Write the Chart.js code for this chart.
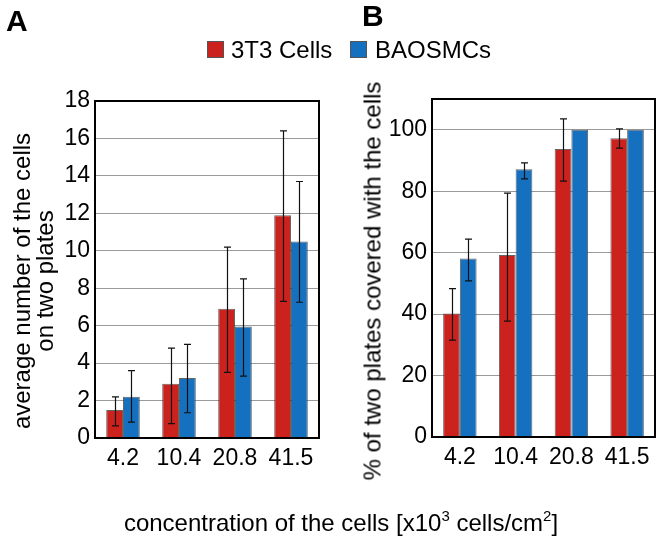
<!DOCTYPE html>
<html>
<head>
<meta charset="utf-8">
<script src="https://cdn.jsdelivr.net/npm/chart.js@4.4.1/dist/chart.umd.min.js"></script>
<style>
  html, body { margin: 0; padding: 0; background: #fff; }
  #page { position: relative; width: 664px; height: 545px; overflow: hidden; font-family: 'Liberation Sans', Arial, sans-serif; color: #000; }
  canvas { position: absolute; top: 0; }
  #chartA { left: 0; }
  #chartB { left: 332px; }
  .panel-tag { position: absolute; font-weight: bold; font-size: 30px; line-height: 30px; }
  .legend-text { position: absolute; font-size: 24px; line-height: 24px; white-space: nowrap; }
  .swatch { position: absolute; width: 17px; height: 17px; border: 1px solid #555; box-sizing: border-box; }
  .y-title { position: absolute; font-size: 24px; line-height: 23px; white-space: nowrap; text-align: center; transform: translate(-50%, -50%) rotate(-90deg); }
  #xTitle { position: absolute; left: 341px; top: 511px; font-size: 24px; line-height: 24px; white-space: nowrap; transform: translateX(-50%); }
  #xTitle sup { font-size: 15px; position: relative; top: -10px; vertical-align: baseline; }
</style>
</head>
<body>
<div id="page">
  <canvas id="chartA" width="332" height="545"></canvas>
  <canvas id="chartB" width="332" height="545"></canvas>

  <div class="panel-tag" style="left:6px; top:6px;">A</div>
  <div class="panel-tag" style="left:362px; top:1px;">B</div>

  <div class="swatch" style="left:207px; top:41px; background:#cc221e;"></div>
  <div class="legend-text" style="left:231px; top:38px;">3T3 Cells</div>
  <div class="swatch" style="left:350px; top:41px; background:#1570bf;"></div>
  <div class="legend-text" style="left:375px; top:38px;">BAOSMCs</div>

  <div class="y-title" style="left:33px; top:281px;">average number of the cells<br>on two plates</div>
  <div class="y-title" style="left:372px; top:281px;">% of two plates covered with the cells</div>

  <div id="xTitle">concentration of the cells [x10<sup>3</sup> cells/cm<sup>2</sup>]</div>
</div>

<script>
// values
const concentrations = ['4.2', '10.4', '20.8', '41.5'];

const count3T3 = [1.5, 2.9, 6.9, 11.9];
const count3T3Low = [0.65, 0.77, 3.5, 7.3];
const count3T3High = [2.2, 4.8, 10.2, 16.4];
const countBAOSMC = [2.2, 3.2, 5.95, 10.5];
const countBAOSMCLow = [0.85, 1.35, 3.3, 7.25];
const countBAOSMCHigh = [3.6, 5.0, 8.5, 13.7];

const cover3T3 = [40.2, 59.2, 93.7, 97.2];
const cover3T3Low = [31.5, 37.7, 83.3, 94.0];
const cover3T3High = [48.3, 79.4, 103.5, 100.3];
const coverBAOSMC = [58.1, 87.1, 100, 100];
const coverBAOSMCLow = [50.8, 84.0, null, null];
const coverBAOSMCHigh = [64.4, 89.2, null, null];

const seriesNames = ['3T3 Cells', 'BAOSMCs'];

const COLORS = {
  red: '#cc221e',
  blue: '#1570bf',
  barEdge: 'rgba(50, 50, 50, 0.75)',
  grid: '#9a9a9a',
};

Chart.defaults.font.family = "'Liberation Sans', Arial, sans-serif";
Chart.defaults.color = '#000';

const errorBarPlugin = {
  id: 'errorBars',
  afterDatasetsDraw(chart) {
    const { ctx } = chart;
    const yScale = chart.scales.y;
    ctx.save();
    ctx.strokeStyle = '#111';
    ctx.lineWidth = 1.2;
    chart.data.datasets.forEach((ds, i) => {
      chart.getDatasetMeta(i).data.forEach((bar, j) => {
        const lo = ds.errLow[j];
        const hi = ds.errHigh[j];
        if (lo == null || hi == null) return;
        const x = Math.round(bar.x) + 0.5;
        const yLo = yScale.getPixelForValue(lo);
        const yHi = yScale.getPixelForValue(hi);
        ctx.beginPath();
        ctx.moveTo(x, yLo);
        ctx.lineTo(x, yHi);
        ctx.moveTo(x - 3.5, yLo);
        ctx.lineTo(x + 3.5, yLo);
        ctx.moveTo(x - 3.5, yHi);
        ctx.lineTo(x + 3.5, yHi);
        ctx.stroke();
      });
    });
    ctx.restore();
  },
};

const framePlugin = {
  id: 'frame',
  afterDraw(chart) {
    const { ctx, chartArea: a } = chart;
    ctx.save();
    ctx.strokeStyle = '#000';
    ctx.lineWidth = 2;
    ctx.strokeRect(a.left, a.top, a.right - a.left, a.bottom - a.top);
    ctx.restore();
  },
};

function makePanel(canvasId, panel) {
  const ctx = document.getElementById(canvasId).getContext('2d');
  return new Chart(ctx, {
    type: 'bar',
    data: {
      labels: concentrations,
      datasets: [
        {
          label: seriesNames[0],
          data: panel.red,
          errLow: panel.redLow,
          errHigh: panel.redHigh,
          backgroundColor: COLORS.red,
          borderColor: COLORS.barEdge,
          borderWidth: 1,
        },
        {
          label: seriesNames[1],
          data: panel.blue,
          errLow: panel.blueLow,
          errHigh: panel.blueHigh,
          backgroundColor: COLORS.blue,
          borderColor: COLORS.barEdge,
          borderWidth: 1,
        },
      ],
    },
    options: {
      responsive: false,
      animation: false,
      categoryPercentage: 0.6,
      barPercentage: 1.0,
      layout: { padding: panel.padding },
      plugins: {
        legend: { display: false },
        tooltip: { enabled: false },
      },
      scales: {
        x: {
          grid: { display: false, drawTicks: false },
          border: { display: false },
          ticks: { font: { size: 23 }, padding: 7, autoSkip: false, maxRotation: 0 },
          afterFit: (scale) => { scale.height = 40; },
        },
        y: {
          min: 0,
          max: panel.max,
          grid: { color: COLORS.grid, lineWidth: 1, drawTicks: false },
          border: { display: false },
          ticks: { stepSize: panel.step, includeBounds: false, font: { size: 23 }, padding: 5 },
          afterFit: (scale) => { scale.width = panel.axisWidth; },
        },
      },
    },
    plugins: [errorBarPlugin, framePlugin],
  });
}

makePanel('chartA', {
  red: count3T3, redLow: count3T3Low, redHigh: count3T3High,
  blue: countBAOSMC, blueLow: countBAOSMCLow, blueHigh: countBAOSMCHigh,
  max: 18, step: 2, axisWidth: 95,
  padding: { left: 0, right: 13, top: 101, bottom: 67 },
});

makePanel('chartB', {
  red: cover3T3, redLow: cover3T3Low, redHigh: cover3T3High,
  blue: coverBAOSMC, blueLow: coverBAOSMCLow, blueHigh: coverBAOSMCHigh,
  max: 110, step: 20, axisWidth: 100,
  padding: { left: 0, right: 9, top: 99, bottom: 68 },
});
</script>
</body>
</html>
